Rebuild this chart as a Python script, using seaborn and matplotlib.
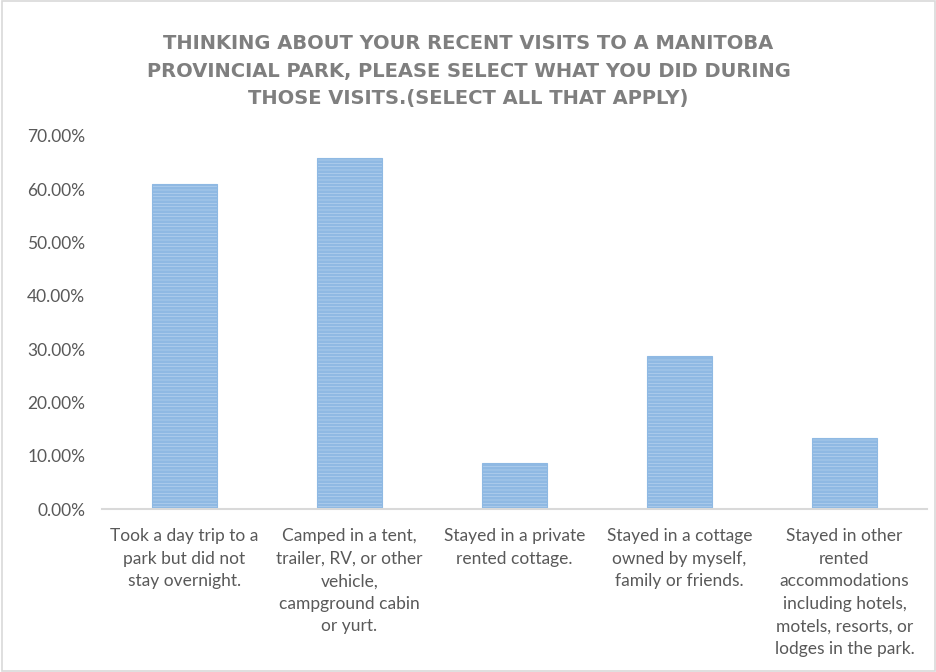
import numpy as np
import pandas as pd
import matplotlib
matplotlib.use("Agg")
import matplotlib.pyplot as plt
import seaborn as sns
from matplotlib.ticker import FuncFormatter

categories = [
    "Took a day trip to a\npark but did not\nstay overnight.",
    "Camped in a tent,\ntrailer, RV, or other\nvehicle,\ncampground cabin\nor yurt.",
    "Stayed in a private\nrented cottage.",
    "Stayed in a cottage\nowned by myself,\nfamily or friends.",
    "Stayed in other\nrented\naccommodations\nincluding hotels,\nmotels, resorts, or\nlodges in the park.",
]
shares = [0.610, 0.659, 0.086, 0.287, 0.133]
yticks = [0.0, 0.1, 0.2, 0.3, 0.4, 0.5, 0.6, 0.7]

title = ("THINKING ABOUT YOUR RECENT VISITS TO A MANITOBA\n"
         "PROVINCIAL PARK, PLEASE SELECT WHAT YOU DID DURING\n"
         "THOSE VISITS.(SELECT ALL THAT APPLY)")

sns.set_style("white")
plt.rcParams["font.family"] = ["Lato", "DejaVu Sans"]
plt.rcParams["hatch.linewidth"] = 2.0
plt.rcParams["hatch.color"] = "#5b9bd5"

df = pd.DataFrame({"cat": categories, "share": shares})

fig = plt.figure(figsize=(9.37, 6.72), dpi=100)
ax = fig.add_axes([102 / 937, 1 - 509 / 672, 825 / 937, 373 / 672])

sns.barplot(data=df, x="cat", y="share", ax=ax, color="#bed7f1",
            width=0.39, saturation=1)
for p in ax.patches:
    p.set_hatch("-----")
    p.set_edgecolor("#8fb9e3")
    p.set_linewidth(0.8)

ax.set_ylim(0, 0.7)
ax.set_xlim(-0.5, 4.5)
ax.set_yticks(yticks)
ax.yaxis.set_major_formatter(FuncFormatter(lambda v, _: f"{v * 100:.2f}%"))
ax.tick_params(axis="y", length=0, labelsize=12.5, labelcolor="#595959", pad=12)
ax.tick_params(axis="x", length=0, labelsize=12.5, labelcolor="#595959", pad=14)
for lab in ax.get_xticklabels():
    lab.set_verticalalignment("top")
    lab.set_linespacing(1.5)
ax.set_xlabel("")
ax.set_ylabel("")
for s in ["top", "right", "left"]:
    ax.spines[s].set_visible(False)
ax.spines["bottom"].set_color("#d9d9d9")
ax.spines["bottom"].set_linewidth(1.5)

fig.text(0.5, 1 - 71 / 672, title, ha="center", va="center",
         fontsize=14, fontweight="bold", color="#7f7f7f",
         linespacing=1.55, family=["DejaVu Sans"])

fig.patches.append(plt.Rectangle((0.002, 0.002), 0.996, 0.996,
                                 transform=fig.transFigure, fill=False,
                                 edgecolor="#d9d9d9", linewidth=1.2))

fig.savefig("out.png", dpi=100)
